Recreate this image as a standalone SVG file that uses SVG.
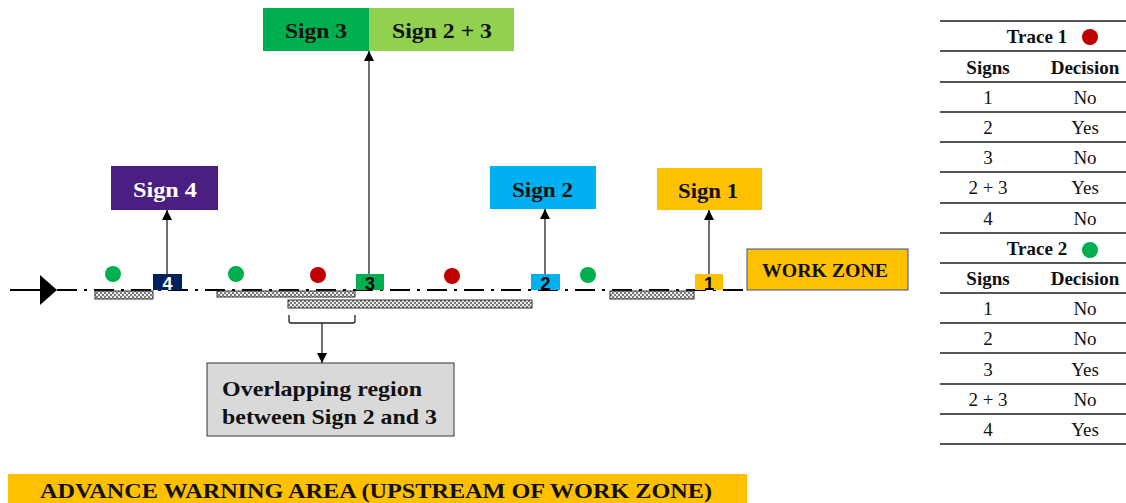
<svg xmlns="http://www.w3.org/2000/svg" width="1126" height="503" viewBox="0 0 1126 503">
<style>
.b{font-family:"Liberation Serif",serif;font-weight:bold;text-anchor:middle}
.t{font-family:"Liberation Serif",serif;text-anchor:middle;font-size:19px;fill:#111}
.n{font-family:"Liberation Sans",sans-serif;font-weight:bold;text-anchor:middle;font-size:18px}
.ln{stroke:#222;stroke-width:1.3;fill:none}
.tl{stroke:#555;stroke-width:2}
.hb{fill:url(#hatch);stroke:#333;stroke-width:1}
</style>
<defs>
<pattern id="hatch" width="4" height="4" patternUnits="userSpaceOnUse">
<rect width="4" height="4" fill="#eee"/>
<rect width="2" height="2" fill="#777"/>
<rect x="2" y="2" width="2" height="2" fill="#777"/>
</pattern>
<marker id="ah" markerWidth="10" markerHeight="10" refX="10" refY="5" orient="auto" markerUnits="userSpaceOnUse" viewBox="0 0 10 10">
<path d="M0,0 L10,5 L0,10 Z" fill="#000"/>
</marker>
</defs>
<rect width="1126" height="503" fill="#fff"/>

<g id="road">
<line x1="10" y1="290" x2="40" y2="290" stroke="#000" stroke-width="2"/>
<path d="M40,275 L57,290 L40,305 Z" fill="#000"/>
<line x1="57" y1="290" x2="745" y2="290" stroke="#000" stroke-width="2" stroke-dasharray="20 7 3 7"/>
</g>

<g id="zones">
<rect class="hb" x="95" y="291" width="58" height="8"/>
<rect class="hb" x="217" y="291" width="138" height="6"/>
<rect class="hb" x="288" y="300" width="244" height="8"/>
<rect class="hb" x="610" y="291" width="84" height="8"/>
</g>

<g id="dots">
<circle cx="113" cy="274" r="8" fill="#00B050"/>
<circle cx="236" cy="274" r="8" fill="#00B050"/>
<circle cx="318" cy="275" r="8" fill="#C00000"/>
<circle cx="452" cy="276" r="8" fill="#C00000"/>
<circle cx="588" cy="275" r="8" fill="#00B050"/>
</g>

<g id="connectors">
<line class="ln" x1="167" y1="274" x2="167" y2="210" marker-end="url(#ah)"/>
<line class="ln" x1="369" y1="274" x2="369" y2="51" marker-end="url(#ah)"/>
<line class="ln" x1="545" y1="274" x2="545" y2="209" marker-end="url(#ah)"/>
<line class="ln" x1="709" y1="274" x2="709" y2="210" marker-end="url(#ah)"/>
<path class="ln" d="M289,315 L289,321 Q289,323 291,323 L353,323 Q355,323 355,321 L355,315"/>
<line class="ln" x1="322" y1="323" x2="322" y2="363" marker-end="url(#ah)"/>
</g>

<g id="sign4-post">
<rect x="153" y="274" width="29" height="16" fill="#002060"/>
<text class="n" x="167.5" y="290" fill="#fff">4</text>
</g>
<g id="sign3-post">
<rect x="356" y="274" width="28" height="16" fill="#00B050"/>
<text class="n" x="370" y="290" fill="#000">3</text>
</g>
<g id="sign2-post">
<rect x="531" y="274" width="29" height="16" fill="#00B0F0"/>
<text class="n" x="545.5" y="290" fill="#000">2</text>
</g>
<g id="sign1-post">
<rect x="695" y="274" width="28" height="16" fill="#FFC000"/>
<text class="n" x="709" y="290" fill="#000">1</text>
</g>

<g id="sign4">
<rect x="111" y="166" width="107" height="44" fill="#4B1E82"/>
<text class="b" x="165" y="197" font-size="21" fill="#fff" textLength="64" lengthAdjust="spacingAndGlyphs">Sign 4</text>
</g>
<g id="sign3">
<rect x="263" y="8" width="106" height="43" fill="#00B050"/>
<text class="b" x="316" y="38" font-size="21" fill="#111" textLength="62" lengthAdjust="spacingAndGlyphs">Sign 3</text>
</g>
<g id="sign23">
<rect x="369" y="8" width="145" height="43" fill="#92D050"/>
<text class="b" x="442" y="38" font-size="21" fill="#111" textLength="100" lengthAdjust="spacingAndGlyphs">Sign 2 + 3</text>
</g>
<g id="sign2">
<rect x="490" y="166" width="106" height="43" fill="#00B0F0"/>
<text class="b" x="542.5" y="197" font-size="21" fill="#111" textLength="61" lengthAdjust="spacingAndGlyphs">Sign 2</text>
</g>
<g id="sign1">
<rect x="657" y="168" width="105" height="42" fill="#FFC000"/>
<text class="b" x="708" y="198" font-size="21" fill="#111" textLength="60" lengthAdjust="spacingAndGlyphs">Sign 1</text>
</g>
<g id="workzone">
<rect x="747" y="249" width="161" height="41" fill="#FFC000" stroke="#2F528F" stroke-width="1"/>
<text class="b" x="825" y="277" font-size="19" fill="#111" textLength="126" lengthAdjust="spacingAndGlyphs">WORK ZONE</text>
</g>
<g id="overlap">
<rect x="207" y="363" width="247" height="73" fill="#D9D9D9" stroke="#333" stroke-width="1"/>
<text class="b" x="222" y="396" font-size="22" fill="#111" text-anchor="start" style="text-anchor:start" textLength="200" lengthAdjust="spacingAndGlyphs">Overlapping region</text>
<text class="b" x="222" y="424" font-size="22" fill="#111" style="text-anchor:start" textLength="215" lengthAdjust="spacingAndGlyphs">between Sign 2 and 3</text>
</g>
<g id="awa">
<rect x="8" y="474" width="739" height="29" fill="#FFC000"/>
<text class="b" x="376" y="498" font-size="20" fill="#111" textLength="672" lengthAdjust="spacingAndGlyphs">ADVANCE WARNING AREA (UPSTREAM OF WORK ZONE)</text>
</g>

<g id="table">
<g class="tl">
<line x1="940" y1="21" x2="1126" y2="21"/>
<line x1="940" y1="51" x2="1126" y2="51"/>
<line x1="940" y1="82" x2="1126" y2="82"/>
<line x1="940" y1="112" x2="1126" y2="112"/>
<line x1="940" y1="142" x2="1126" y2="142"/>
<line x1="940" y1="172" x2="1126" y2="172"/>
<line x1="940" y1="203" x2="1126" y2="203"/>
<line x1="940" y1="233" x2="1126" y2="233"/>
<line x1="940" y1="263" x2="1126" y2="263"/>
<line x1="940" y1="293" x2="1126" y2="293"/>
<line x1="940" y1="323" x2="1126" y2="323"/>
<line x1="940" y1="353" x2="1126" y2="353"/>
<line x1="940" y1="384" x2="1126" y2="384"/>
<line x1="940" y1="414" x2="1126" y2="414"/>
<line x1="940" y1="444" x2="1126" y2="444"/>
</g>
<text class="b" x="1037" y="43" font-size="19" fill="#111">Trace 1</text>
<circle cx="1090" cy="37" r="8" fill="#C00000"/>
<text class="b" x="988" y="74" font-size="19" fill="#111">Signs</text>
<text class="b" x="1085" y="74" font-size="19" fill="#111">Decision</text>
<text class="t" x="988" y="104">1</text><text class="t" x="1085" y="104">No</text>
<text class="t" x="988" y="134">2</text><text class="t" x="1085" y="134">Yes</text>
<text class="t" x="988" y="164">3</text><text class="t" x="1085" y="164">No</text>
<text class="t" x="988" y="194">2 + 3</text><text class="t" x="1085" y="194">Yes</text>
<text class="t" x="988" y="225">4</text><text class="t" x="1085" y="225">No</text>
<text class="b" x="1037" y="255" font-size="19" fill="#111">Trace 2</text>
<circle cx="1090" cy="250" r="8" fill="#00B050"/>
<text class="b" x="988" y="285" font-size="19" fill="#111">Signs</text>
<text class="b" x="1085" y="285" font-size="19" fill="#111">Decision</text>
<text class="t" x="988" y="315">1</text><text class="t" x="1085" y="315">No</text>
<text class="t" x="988" y="345">2</text><text class="t" x="1085" y="345">No</text>
<text class="t" x="988" y="376">3</text><text class="t" x="1085" y="376">Yes</text>
<text class="t" x="988" y="406">2 + 3</text><text class="t" x="1085" y="406">No</text>
<text class="t" x="988" y="436">4</text><text class="t" x="1085" y="436">Yes</text>
</g>
</svg>
